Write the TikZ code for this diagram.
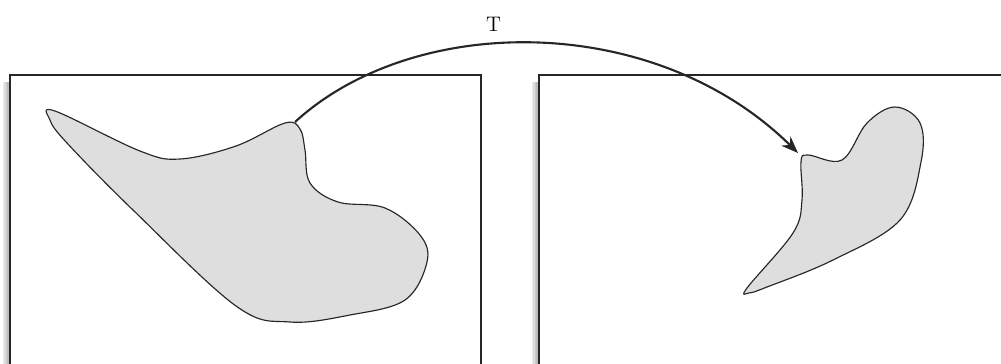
\documentclass[tikz,border=0pt]{standalone}
\usepackage{tikz}
\usetikzlibrary{arrows.meta}

\begin{document}
\begin{tikzpicture}[x=0.02cm,y=-0.02cm,>={Stealth[length=3.4mm,width=2.6mm,inset=1.1mm]},
  soft/.style={preaction={fill=black,opacity=0.07,transform canvas={xshift=-#1,yshift=-1.4mm}}},
  frame/.style={draw=black!85,line width=1.3pt,fill=white,
    soft=0.3mm,soft=0.6mm,soft=0.9mm,soft=1.2mm,soft=1.5mm},
  region/.style={draw=black!85,line width=0.65pt,fill=black!13}]

\clip (0,0) rectangle (1001,363);

% The two spaces
\path[frame] (10,75) rectangle (481,420);
\path[frame] (539,75) rectangle (1060,420);

% Region in the first space
\path[region] plot[smooth cycle,tension=0.6] coordinates {
  (55,111) (140,151) (180,159) (236,146) (285,123) (300,129) (305,150)
  (310,183) (338,202) (385,208) (420,235) (427,262) (405,300) (350,315)
  (290,322) (236,306) (133,210) (67,143) (50,120)};
\coordinate (src) at (295,122);

% Its image in the second space
\path[region] plot[smooth cycle,tension=0.6] coordinates {
  (808,155) (842,160) (867,123) (895,107) (920,123) (921,162) (900,220)
  (833,260) (767,287) (749,293) (747,288) (793,233) (802,200) (801,162)};
\coordinate (dst) at (798,153);

% The map T
\draw[->,line width=1.2pt,black!85] (src) .. controls (415,12) and (655,12) .. (dst)
  node[pos=0.42,above=3pt,black,font=\large] (lbl) {T};

\end{tikzpicture}
\end{document}
